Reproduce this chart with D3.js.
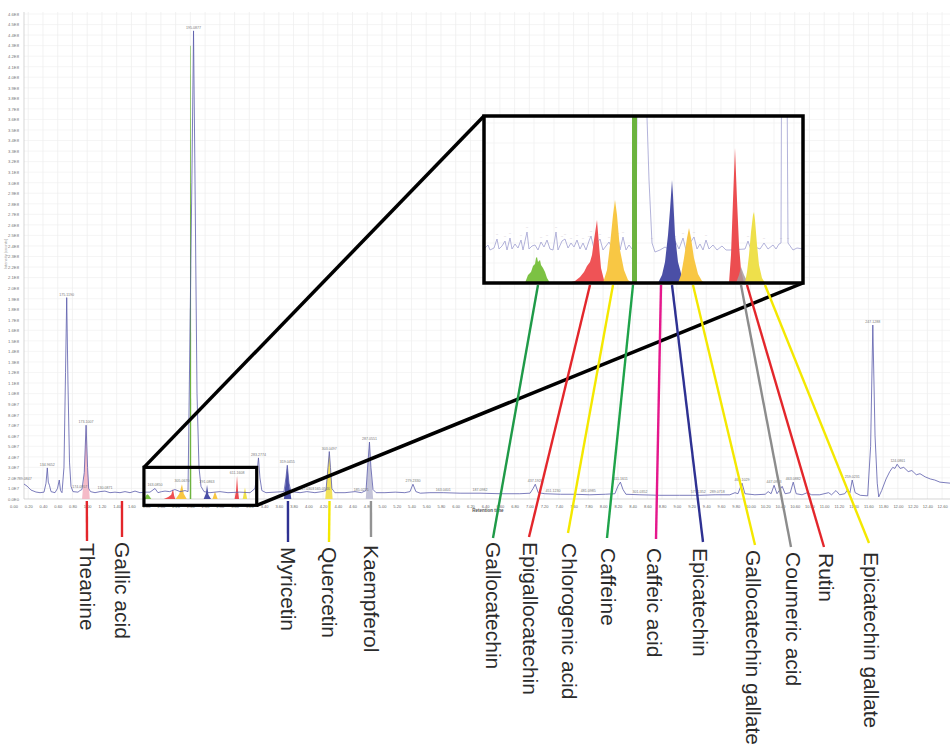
<!DOCTYPE html>
<html><head><meta charset="utf-8">
<script src="https://cdn.jsdelivr.net/npm/d3@7"></script>
<style>body{margin:0;background:#fff}svg{display:block}</style>
</head><body>
<svg id="chart" width="950" height="752"></svg>
<script>
// ---------------- DATA ----------------
const xTickValues = [0,0.2,0.4,0.6,0.8,1,1.2,1.4,1.6,1.8,2,2.2,2.4,2.6,2.8,3,3.2,3.4,3.6,3.8,4,4.2,4.4,4.6,4.8,5,5.2,5.4,5.6,5.8,6,6.2,6.4,6.6,6.8,7,7.2,7.4,7.6,7.8,8,8.2,8.4,8.6,8.8,9,9.2,9.4,9.6,9.8,10,10.2,10.4,10.6,10.8,11,11.2,11.4,11.6,11.8,12,12.2,12.4,12.6];
// intensity in units of 1E7
const yTickValues = [0,1,2,3,4,5,6,7,8,9,10,11,12,13,14,15,16,17,18,19,20,21,22,23,24,25,26,27,28,29,30,31,32,33,34,35,36,37,38,39,40,41,42,43,44,45,46];
const yTickLabels = ["0.0E0","1.0E7","2.0E7","3.0E7","4.0E7","5.0E7","6.0E7","7.0E7","8.0E7","9.0E7","1.0E8","1.1E8","1.2E8","1.3E8","1.4E8","1.5E8","1.6E8","1.7E8","1.8E8","1.9E8","2.0E8","2.1E8","2.2E8","2.3E8","2.4E8","2.5E8","2.6E8","2.7E8","2.8E8","2.9E8","3.0E8","3.1E8","3.2E8","3.3E8","3.4E8","3.5E8","3.6E8","3.7E8","3.8E8","3.9E8","4.0E8","4.1E8","4.2E8","4.3E8","4.4E8","4.5E8","4.6E8"];

// main chromatogram trace [retention time (min), intensity (1E7)]
const mainTrace = [[0.142,1.42],[0.183,1.23],[0.237,0.85],[0.305,0.66],[0.36,0.6],[0.414,0.65],[0.441,1.5],[0.459,2.95],[0.472,1.6],[0.488,1.3],[0.509,0.7],[0.563,0.6],[0.597,1.0],[0.621,1.8],[0.638,0.8],[0.658,0.6],[0.685,3.0],[0.706,12],[0.722,19.1],[0.739,11],[0.76,3.5],[0.78,1.2],[0.807,0.7],[0.875,0.65],[0.902,0.8],[0.929,0.9],[0.96,2.5],[0.985,7.0],[1.005,3.0],[1.02,1.0],[1.045,0.7],[1.106,0.6],[1.174,0.7],[1.241,0.75],[1.309,0.6],[1.377,0.65],[1.445,0.6],[1.513,0.7],[1.581,0.6],[1.649,0.75],[1.716,0.6],[1.79,0.65],[1.852,0.65],[1.92,1.0],[1.96,0.6],[2.01,0.7],[2.056,0.75],[2.12,0.7],[2.19,0.9],[2.26,0.7],[2.327,0.8],[2.368,0.7],[2.42,30],[2.443,44.4],[2.463,30],[2.49,10],[2.517,3],[2.544,1.2],[2.585,0.7],[2.666,0.6],[2.80,0.7],[2.91,0.6],[3.07,0.65],[3.21,0.6],[3.277,1.0],[3.304,2.5],[3.324,3.9],[3.344,2.0],[3.37,0.8],[3.426,0.6],[3.67,0.7],[3.697,2.0],[3.715,3.2],[3.738,1.5],[3.765,0.7],[3.888,0.6],[3.98,0.7],[4.09,0.6],[4.186,0.7],[4.24,0.8],[4.267,3.0],[4.285,4.5],[4.301,3.0],[4.32,1.0],[4.36,0.6],[4.498,0.6],[4.634,0.7],[4.72,0.6],[4.783,0.8],[4.81,3.5],[4.83,5.4],[4.85,3.0],[4.878,0.9],[4.92,0.6],[5.04,0.6],[5.18,0.65],[5.31,0.6],[5.38,0.7],[5.42,1.4],[5.46,0.7],[5.52,0.55],[5.65,0.6],[5.83,0.6],[6.06,0.55],[6.33,0.55],[6.6,0.5],[6.87,0.5],[7.01,0.55],[7.05,1.0],[7.08,1.4],[7.12,0.6],[7.21,0.5],[7.42,0.45],[7.62,0.45],[7.82,0.4],[8.03,0.45],[8.16,0.5],[8.2,1.2],[8.235,1.6],[8.27,0.9],[8.31,0.45],[8.5,0.4],[8.77,0.35],[9.04,0.35],[9.31,0.35],[9.52,0.4],[9.72,0.4],[9.79,0.6],[9.83,0.5],[9.885,1.5],[9.925,0.5],[10.06,0.4],[10.2,0.45],[10.24,0.7],[10.28,0.5],[10.32,1.3],[10.36,0.5],[10.43,1.2],[10.47,0.5],[10.54,0.6],[10.58,1.6],[10.62,0.5],[10.70,0.4],[10.77,0.6],[10.83,0.4],[10.94,0.4],[11.06,0.6],[11.1,0.4],[11.16,0.8],[11.21,0.4],[11.28,0.5],[11.32,0.9],[11.35,0.6],[11.38,1.8],[11.42,0.6],[11.49,0.35],[11.59,0.3],[11.63,5],[11.66,16.5],[11.69,6],[11.72,1.5],[11.74,0.2],[11.78,0.8],[11.84,1.9],[11.89,2.6],[11.93,3.0],[11.96,2.9],[11.99,3.3],[12.03,2.9],[12.08,3.0],[12.14,2.6],[12.19,2.7],[12.25,2.3],[12.3,2.4],[12.37,2.1],[12.44,1.9],[12.5,1.8],[12.57,1.6],[12.64,1.55],[12.71,1.5]];

// peak annotations on the main trace
const peakLabelTimes  = [0.16,0.459,0.722,0.90,0.985,1.241,1.92,2.286,2.443,2.626,3.033,3.324,3.715,3.98,4.19,4.285,4.72,4.83,5.42,5.83,6.33,7.08,7.32,7.80,8.235,8.5,9.29,9.55,9.885,10.32,10.58,11.38,11.66,12.0];
const peakLabelValues = [1.6,2.95,19.1,0.9,7.0,0.75,1.0,1.4,44.4,1.35,2.2,3.9,3.2,0.7,0.7,4.5,0.6,5.4,1.4,0.6,0.55,1.4,0.5,0.45,1.6,0.4,0.35,0.4,1.5,1.3,1.6,1.8,16.5,3.3];
const peakLabelTexts  = ["89.0847","134.9652","175.1190","174.0957","173.1007","130.0871","163.0850","305.0670","195.0877","291.0863","611.1608","283.2774","319.0455","317.0303","165.0546","303.0497","185.0271","287.0551","279.2330","163.0401","187.0982","437.1920","451.1230","481.0985","611.1611","301.0352","577.1352","289.0718","465.1029","447.0933","463.0882","259.0231","247.1288","124.0861"];

// highlighted compound peaks in the main chromatogram
const fillTheanine   = [[0.93,0],[0.96,2.5],[0.985,7.0],[1.005,3.0],[1.035,0]];
const fillMyricetin  = [[3.67,0],[3.697,2.0],[3.715,3.2],[3.738,1.5],[3.77,0]];
const fillQuercetin  = [[4.23,0],[4.267,3.0],[4.285,4.5],[4.301,3.0],[4.33,0]];
const fillKaempferol = [[4.78,0],[4.81,3.5],[4.83,5.4],[4.85,3.0],[4.88,0]];
const boxGallocatechin   = [[1.78,0],[1.80,0.35],[1.82,0.45],[1.84,0.3],[1.87,0]];
const boxEpigallocatechin= [[2.04,0],[2.10,0.2],[2.14,0.4],[2.164,0.95],[2.18,0.3],[2.195,0]];
const boxChlorogenic     = [[2.20,0],[2.25,0.5],[2.286,1.4],[2.31,0.5],[2.35,0]];
const boxCaffeine        = [[2.392,0],[2.398,43],[2.406,43],[2.412,0]];
const boxEpicatechin     = [[2.58,0],[2.61,0.5],[2.626,1.35],[2.645,0.4],[2.68,0]];
const boxGCG             = [[2.70,0],[2.734,0.7],[2.77,0]];
const boxRutin           = [[3.00,0],[3.02,0.8],[3.033,2.2],[3.046,0.8],[3.06,0]];
const boxECG             = [[3.11,0],[3.141,1.1],[3.17,0]];
const zoomTimeRange      = [1.77, 3.30];
const zoomIntensityRange = [-0.6, 3.0];

// zoomed inset (relative intensity units)
const insetTrace = [[1.800,1.70],[1.820,1.90],[1.830,1.65],[1.850,1.75],[1.865,2.20],[1.875,1.70],[1.890,1.85],[1.905,2.10],[1.915,1.65],[1.930,2.25],[1.940,1.70],[1.955,1.95],[1.970,1.75],[1.985,2.15],[1.995,1.65],[2.015,2.55],[2.025,1.70],[2.040,1.85],[2.055,1.90],[2.070,1.65],[2.085,2.05],[2.100,1.80],[2.115,2.15],[2.130,1.70],[2.145,1.65],[2.160,2.55],[2.170,1.65],[2.190,2.10],[2.205,2.20],[2.220,1.75],[2.235,2.00],[2.250,1.80],[2.265,2.15],[2.280,1.70],[2.295,2.00],[2.310,1.65],[2.325,2.10],[2.335,2.35],[2.350,1.70],[2.365,2.00],[2.380,2.20],[2.395,1.65],[2.410,1.85],[2.425,2.05],[2.440,1.75],[2.455,1.95],[2.470,2.25],[2.480,1.65],[2.495,2.30],[2.510,1.65],[2.525,1.90],[2.540,1.70],[2.560,1.70],[2.580,30],[2.615,8.3],[2.625,5.15],[2.640,2.0],[2.655,1.55],[2.680,1.65],[2.705,1.80],[2.730,1.65],[2.755,2.10],[2.775,1.70],[2.795,2.25],[2.810,1.65],[2.830,2.00],[2.850,2.30],[2.865,1.70],[2.880,1.95],[2.895,1.65],[2.910,2.15],[2.925,1.70],[2.945,1.90],[2.965,1.65],[2.990,1.85],[3.010,1.65],[3.030,1.65],[3.105,1.70],[3.120,2.10],[3.135,1.65],[3.155,1.80],[3.180,1.70],[3.200,2.00],[3.220,1.70],[3.245,1.90],[3.260,1.70],[3.275,1.95],[3.285,2.0],[3.2975,40],[3.320,2.0],[3.345,1.65],[3.365,1.75],[3.395,1.70]];
const insetGallocatechin    = [[2.005,0],[2.020,0.4],[2.035,0.55],[2.045,0.85],[2.055,0.95],[2.060,1.25],[2.065,1.3],[2.070,1.05],[2.080,1.15],[2.085,0.9],[2.095,0.75],[2.105,0.55],[2.115,0.25],[2.130,0]];
const insetEpigallocatechin = [[2.220,0],[2.255,0.1],[2.280,0.3],[2.300,0.55],[2.315,0.85],[2.330,1.05],[2.340,1.4],[2.350,2.15],[2.365,3.15],[2.375,1.9],[2.385,0.75],[2.400,0.15],[2.410,0]];
const insetChlorogenic      = [[2.395,0],[2.415,0.65],[2.430,1.9],[2.445,3.4],[2.455,4.15],[2.465,3.4],[2.480,1.65],[2.500,0.65],[2.520,0.15],[2.540,0]];
const insetCaffeine         = [[2.540,0],[2.541,60],[2.564,60],[2.565,0]];
const insetEpicatechin      = [[2.670,0],[2.690,0.4],[2.705,1.05],[2.720,2.4],[2.730,3.65],[2.735,4.4],[2.740,5.15],[2.745,4.4],[2.755,2.4],[2.770,1.05],[2.790,0.3],[2.810,0]];
const insetGCG              = [[2.770,0],[2.785,0.4],[2.800,1.25],[2.815,2.25],[2.825,2.75],[2.835,2.25],[2.850,1.25],[2.870,0.45],[2.890,0.1],[2.905,0]];
const insetRutin            = [[3.025,0],[3.035,1.4],[3.045,4.15],[3.055,6.75],[3.065,4.15],[3.075,1.9],[3.085,0.65],[3.100,0]];
const insetCoumeric         = [[3.060,0],[3.075,0.4],[3.085,0.8],[3.100,0.4],[3.120,0]];
const insetECG              = [[3.105,0],[3.115,0.55],[3.125,1.4],[3.135,2.55],[3.145,3.4],[3.150,3.55],[3.155,3.15],[3.165,1.9],[3.175,0.9],[3.190,0.25],[3.205,0]];

// compound names
const mainCompounds = ["Theanine","Gallic acid","Myricetin","Quercetin","Kaempferol"];
const mainCompoundTimes = [0.995,1.472,3.724,4.288,4.85];
const insetCompounds = ["Gallocatechin","Epigallocatechin","Chlorogenic acid","Caffeine","Caffeic acid","Epicatechin","Gallocatechin gallate","Coumeric acid","Rutin","Epicatechin gallate"];
const insetCompoundTimes = [2.07,2.33,2.445,2.545,2.685,2.74,2.845,3.085,3.115,3.205];

// ---------------- LAYOUT / STYLE ----------------
const W = 950, H = 752;
const plotLeft = 24, plotRight = 950, plotTop = 12, plotBottom = 499;
const inset = {x0:484, x1:803, y0:116, y1:283};
const mainLabelLayout  = [{x:87,lineEnd:541,top:543},{x:122,lineEnd:537,top:542},{x:288,lineEnd:542,top:547},{x:329,lineEnd:542,top:547},{x:371,lineEnd:537,top:545}];
const insetLabelLayout = [{lx:493,ly:538,tx:493,top:542},{lx:529,ly:537,tx:530,top:542},{lx:568,ly:533,tx:569,top:543},{lx:607,ly:538,tx:608,top:548},{lx:656,ly:539,tx:654,top:548},{lx:703,ly:542,tx:700,top:548},{lx:755,ly:545,tx:753,top:550},{lx:791,ly:547,tx:793,top:552},{lx:824,ly:547,tx:826,top:553},{lx:869,ly:543,tx:871,top:552}];
const mainLabelColors  = ["#e3262b","#e3262b","#2e3192","#f4e800","#939393"];
const insetLabelColors = ["#1f9a48","#e3262b","#f4e800","#1fa34a","#e5178c","#2e3192","#f4e800","#8c8c8c","#e3262b","#f4e800"];
const traceColor = "#5a5cab", insetTraceColor = "#aaaad6";
const fontFamily = "'Liberation Sans', Arial, sans-serif";

const svg = d3.select("#chart");
svg.append("rect").attr("width",W).attr("height",H).attr("fill","#fff");

const x = d3.scaleLinear().domain([0,12.6]).range([13.5,942.1]);
const y = d3.scaleLinear().domain([0,46]).range([plotBottom,14]);

// grid
const grid = svg.append("g");
grid.selectAll("line.v").data(xTickValues.filter(v => x(v) > plotLeft + 1)).join("line")
  .attr("x1",d=>x(d)).attr("x2",d=>x(d)).attr("y1",plotTop).attr("y2",plotBottom)
  .attr("stroke","#e9e9e9").attr("stroke-width",0.6);
grid.selectAll("line.h").data(yTickValues.slice(1)).join("line")
  .attr("x1",plotLeft).attr("x2",plotRight).attr("y1",d=>y(d)).attr("y2",d=>y(d))
  .attr("stroke","#eeeeee").attr("stroke-width",0.6);

// axes
const xAxis = d3.axisBottom(x).tickValues(xTickValues).tickSize(0).tickFormat(d3.format(".2f"));
const gx = svg.append("g").attr("transform",`translate(0,${plotBottom})`).call(xAxis);
gx.select(".domain").remove();
gx.selectAll("text").attr("font-size",4).attr("fill","#666").attr("font-family",fontFamily).attr("dy","6");
svg.append("line").attr("x1",plotLeft).attr("x2",plotRight).attr("y1",plotBottom).attr("y2",plotBottom).attr("stroke","#c4c4c4").attr("stroke-width",0.7);

const yAxis = d3.axisLeft(y).tickValues(yTickValues).tickSize(0).tickFormat((d,i)=>yTickLabels[i]);
const gy = svg.append("g").attr("transform",`translate(${plotLeft-2},0)`).call(yAxis);
gy.select(".domain").remove();
gy.selectAll("text").attr("font-size",4.2).attr("fill","#777").attr("font-family",fontFamily);
svg.append("line").attr("x1",plotLeft).attr("x2",plotLeft).attr("y1",plotTop).attr("y2",plotBottom).attr("stroke","#c4c4c4").attr("stroke-width",0.7);

svg.append("text").attr("x",488).attr("y",512).attr("text-anchor","middle").attr("font-size",4.5).attr("font-weight","bold").attr("fill","#555").attr("font-family",fontFamily).text("Retention time");
svg.append("text").attr("transform","translate(7,254) rotate(-90)").attr("text-anchor","middle").attr("font-size",4).attr("fill","#999").attr("font-family",fontFamily).text("Intensity (counts)");

// clip
svg.append("clipPath").attr("id","plotClip").append("rect").attr("x",plotLeft).attr("y",0).attr("width",plotRight-plotLeft).attr("height",plotBottom+8);

const area = d3.area().x(d=>x(d[0])).y0(y(0)).y1(d=>y(d[1]));
const gMain = svg.append("g").attr("clip-path","url(#plotClip)");
const mainFills = [
  [fillTheanine,"#f4b4c2",0.9],[fillMyricetin,"#4a4fa5",1],[fillQuercetin,"#f2e25a",1],[fillKaempferol,"#c3c3d8",1],
  [boxGallocatechin,"#7dc243",1],[boxEpigallocatechin,"#ee4f52",1],[boxChlorogenic,"#f8c743",1],[boxCaffeine,"#6db33f",1],
  [boxEpicatechin,"#4a4fa6",1],[boxGCG,"#f8c743",1],[boxRutin,"#ec4a4f",1],[boxECG,"#efe04a",1]];
mainFills.forEach(([pts,c,o]) => gMain.append("path").datum(pts).attr("d",area).attr("fill",c).attr("fill-opacity",o));

const line = d3.line().x(d=>x(d[0])).y(d=>y(d[1]));
gMain.append("path").datum(mainTrace).attr("d",line).attr("fill","none").attr("stroke",traceColor).attr("stroke-width",0.8).attr("stroke-linejoin","round");

svg.append("g").selectAll("text").data(peakLabelTimes).join("text")
  .attr("x",d=>x(d)).attr("y",(d,i)=>y(peakLabelValues[i])-2)
  .attr("text-anchor","middle").attr("font-size",3.6).attr("fill","#777").attr("font-family",fontFamily)
  .text((d,i)=>peakLabelTexts[i]);

// zoom box in the main chart
const bx0 = x(zoomTimeRange[0]), bx1 = x(zoomTimeRange[1]);
const by0 = y(zoomIntensityRange[1]), by1 = y(zoomIntensityRange[0]);
svg.append("line").attr("x1",bx0).attr("y1",by0).attr("x2",inset.x0).attr("y2",inset.y0).attr("stroke","#000").attr("stroke-width",3.5);
svg.append("line").attr("x1",bx1).attr("y1",by1).attr("x2",inset.x1).attr("y2",inset.y1).attr("stroke","#000").attr("stroke-width",3.5);
svg.append("rect").attr("x",bx0).attr("y",by0).attr("width",bx1-bx0).attr("height",by1-by0).attr("fill","none").attr("stroke","#000").attr("stroke-width",3.2);

// inset
const ix = d3.scaleLinear().domain([1.8,3.395]).range([inset.x0,inset.x1]);
const iy = d3.scaleLinear().domain([0,8.35]).range([inset.y1,inset.y0]);
svg.append("clipPath").attr("id","insetClip").append("rect").attr("x",inset.x0).attr("y",inset.y0).attr("width",inset.x1-inset.x0).attr("height",inset.y1-inset.y0);
const gI = svg.append("g").attr("clip-path","url(#insetClip)");
gI.append("rect").attr("x",inset.x0).attr("y",inset.y0).attr("width",inset.x1-inset.x0).attr("height",inset.y1-inset.y0).attr("fill","#fff");
gI.selectAll("line.iv").data(d3.range(1.85,3.4,0.1)).join("line")
  .attr("x1",d=>ix(d)).attr("x2",d=>ix(d)).attr("y1",inset.y0).attr("y2",inset.y1).attr("stroke","#f0f0f0").attr("stroke-width",0.8);
gI.selectAll("line.ih").data([1,2,3,4,5,6,7,8]).join("line")
  .attr("x1",inset.x0).attr("x2",inset.x1).attr("y1",d=>iy(d)).attr("y2",d=>iy(d)).attr("stroke","#f2f2f2").attr("stroke-width",0.8);
const iline = d3.line().x(d=>ix(d[0])).y(d=>iy(d[1]));
gI.append("path").datum(insetTrace).attr("d",iline).attr("fill","none").attr("stroke",insetTraceColor).attr("stroke-width",0.9);
gI.selectAll("text.sp").data(insetTrace.filter(d=>d[1]>=2.0 && d[1]<5)).join("text")
  .attr("x",d=>ix(d[0])).attr("y",d=>iy(d[1])-1.5).attr("text-anchor","middle").attr("font-size",3).attr("fill","#999").text("‾‾");
const iarea = d3.area().x(d=>ix(d[0])).y0(iy(0)).y1(d=>iy(d[1]));
const insetFills = [
  [insetGallocatechin,"#7cc243",1],[insetEpigallocatechin,"#ef5356",1],[insetChlorogenic,"#f8c744",1],[insetCaffeine,"#6cb33f",1],
  [insetEpicatechin,"#4b4fa6",1],[insetGCG,"#f8c744",1],[insetRutin,"#ec4d50",1],[insetCoumeric,"#a89a9c",0.85],[insetECG,"#eee04b",1]];
insetFills.forEach(([pts,c,o]) => gI.append("path").datum(pts).attr("d",iarea).attr("fill",c).attr("fill-opacity",o));
svg.append("rect").attr("x",inset.x0).attr("y",inset.y0).attr("width",inset.x1-inset.x0).attr("height",inset.y1-inset.y0).attr("fill","none").attr("stroke","#000").attr("stroke-width",3.5);

// leader lines + rotated names
const gL = svg.append("g");
mainCompounds.forEach((name,i) => {
  const L = mainLabelLayout[i];
  const px = x(mainCompoundTimes[i]);
  gL.append("line").attr("x1",px).attr("y1",plotBottom+2).attr("x2",L.x).attr("y2",L.lineEnd).attr("stroke",mainLabelColors[i]).attr("stroke-width",2.4);
  gL.append("text").attr("transform",`translate(${L.x},${L.top}) rotate(90)`).attr("dominant-baseline","central")
    .attr("font-size",21).attr("fill","#2b2b2b").attr("font-family",fontFamily).text(name);
});
insetCompounds.forEach((name,i) => {
  const L = insetLabelLayout[i];
  gL.append("line").attr("x1",ix(insetCompoundTimes[i])).attr("y1",inset.y1+2).attr("x2",L.lx).attr("y2",L.ly).attr("stroke",insetLabelColors[i]).attr("stroke-width",2.4);
  gL.append("text").attr("transform",`translate(${L.tx},${L.top}) rotate(90)`).attr("dominant-baseline","central")
    .attr("font-size",21).attr("fill","#2b2b2b").attr("font-family",fontFamily).text(name);
});
</script>
</body></html>
